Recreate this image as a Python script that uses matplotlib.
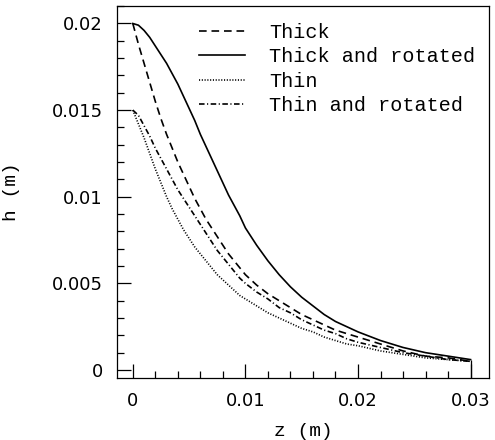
import matplotlib
matplotlib.use("Agg")
import matplotlib.pyplot as plt
from matplotlib.ticker import MultipleLocator, FuncFormatter

# z positions (m) and film thickness h (m)
z = [0.0, 0.0005, 0.001, 0.0015, 0.002, 0.0025, 0.003, 0.0035, 0.004, 0.0045,
     0.005, 0.0055, 0.006, 0.0065, 0.007, 0.0075, 0.008, 0.0085, 0.009, 0.0095,
     0.010, 0.011, 0.012, 0.013, 0.014, 0.015, 0.016, 0.017, 0.018, 0.019,
     0.020, 0.022, 0.024, 0.026, 0.028, 0.030]
h_thick = [0.0200, 0.0188, 0.0177, 0.0166, 0.0155, 0.0145, 0.0136, 0.0128, 0.0120, 0.0113,
           0.0106, 0.0099, 0.0093, 0.0087, 0.0082, 0.0077, 0.0072, 0.0067, 0.0063, 0.0059,
           0.0055, 0.0049, 0.0044, 0.0040, 0.0036, 0.0032, 0.0029, 0.0026, 0.0023, 0.0021,
           0.0019, 0.0015, 0.0011, 0.0008, 0.0007, 0.0005]
h_thick_rot = [0.0200, 0.0199, 0.0196, 0.0192, 0.0187, 0.0182, 0.0177, 0.0171, 0.0165, 0.0158,
               0.0151, 0.0144, 0.0136, 0.0129, 0.0122, 0.0115, 0.0108, 0.0101, 0.0095, 0.0089,
               0.0082, 0.0072, 0.0063, 0.0055, 0.0048, 0.0042, 0.0037, 0.0032, 0.0028, 0.0025,
               0.0022, 0.0017, 0.0013, 0.0010, 0.0008, 0.0006]
h_thin = [0.0150, 0.0142, 0.0134, 0.0125, 0.0116, 0.0108, 0.0100, 0.0093, 0.0087, 0.0081,
          0.0076, 0.0071, 0.0067, 0.0063, 0.0059, 0.0055, 0.0052, 0.0049, 0.0046, 0.0043,
          0.0041, 0.0037, 0.0033, 0.0030, 0.0027, 0.0024, 0.0022, 0.0019, 0.0017, 0.0015,
          0.0014, 0.0011, 0.0009, 0.0007, 0.0006, 0.0005]
h_thin_rot = [0.0150, 0.0147, 0.0141, 0.0135, 0.0128, 0.0122, 0.0116, 0.0110, 0.0104, 0.0099,
              0.0094, 0.0089, 0.0084, 0.0079, 0.0074, 0.0069, 0.0065, 0.0061, 0.0057, 0.0053,
              0.0050, 0.0045, 0.0041, 0.0036, 0.0033, 0.0029, 0.0026, 0.0023, 0.0021, 0.0018,
              0.0016, 0.0013, 0.0010, 0.0008, 0.0006, 0.0005]

labels = ["Thick", "Thick and rotated", "Thin", "Thin and rotated"]
xticks = [0, 0.01, 0.02, 0.03]
yticks = [0, 0.005, 0.01, 0.015, 0.02]

plt.rcParams['lines.scale_dashes'] = False
mono = ['Liberation Mono', 'DejaVu Sans Mono']

fig = plt.figure(figsize=(4.95, 4.4), dpi=100)
ax = fig.add_axes([0.236, 0.141, 0.752, 0.845])

lw = 1.2
ax.plot(z, h_thick, color='black', lw=lw, dashes=(5.5, 3.5), label=labels[0])
ax.plot(z, h_thick_rot, color='black', lw=lw, label=labels[1])
ax.plot(z, h_thin, color='black', lw=lw, dashes=(0.8, 1.2), label=labels[2])
ax.plot(z, h_thin_rot, color='black', lw=lw, dashes=(4, 1.8, 0.8, 1.8), label=labels[3])

ylo = -0.00046
ax.vlines(z[-1], ylo, h_thick_rot[-1], color='black', lw=0.9)

ax.set_xlim(-0.00142, 0.03164)
ax.set_ylim(ylo, 0.0210)

ax.set_xticks(xticks)
ax.set_yticks(yticks)
ax.xaxis.set_minor_locator(MultipleLocator(0.002))
ax.yaxis.set_minor_locator(MultipleLocator(0.001))
fmt = FuncFormatter(lambda v, p: ('%g' % round(v, 4)))
ax.xaxis.set_major_formatter(fmt)
ax.yaxis.set_major_formatter(fmt)

ax.tick_params(which='major', direction='in', length=10, width=0.9, labelsize=13, pad=10)
ax.tick_params(which='minor', direction='in', length=5, width=0.9)
for s in ax.spines.values():
    s.set_linewidth(0.9)

ax.set_xlabel('z (m)', fontsize=14, family=mono)
ax.set_ylabel('h (m)', fontsize=14, family=mono)
ax.xaxis.set_label_coords(0.5, -0.12)
ax.yaxis.set_label_coords(-0.26, 0.5)

leg = ax.legend(loc='upper left', bbox_to_anchor=(0.22, 0.955), frameon=False,
                prop={'family': mono, 'size': 14.5}, handlelength=2.3,
                handletextpad=1.2, labelspacing=0.27, borderpad=0, borderaxespad=0)

fig.savefig('out.png', dpi=100)
